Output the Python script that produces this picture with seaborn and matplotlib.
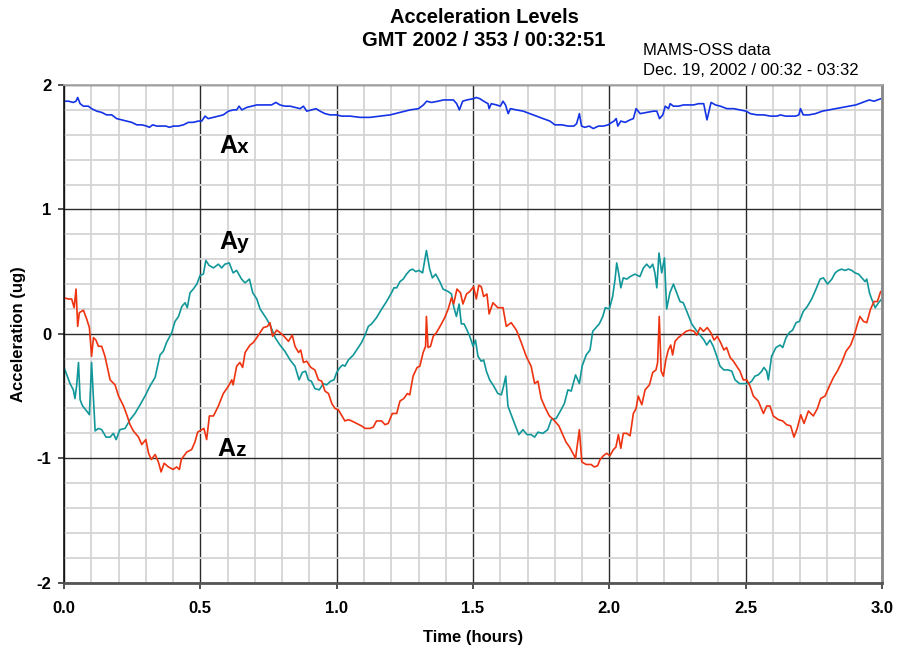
import numpy as np
import pandas as pd
import seaborn as sns
import matplotlib.pyplot as plt

# values (time in hours, acceleration in ug)
ax_t = [0, 0.016, 0.034, 0.044, 0.05, 0.059, 0.071, 0.089, 0.101, 0.12,
        0.138, 0.156, 0.175, 0.193, 0.211, 0.23, 0.248, 0.267, 0.285, 0.303,
        0.313, 0.325, 0.34, 0.358, 0.374, 0.386, 0.401, 0.419, 0.438, 0.456,
        0.474, 0.492, 0.505, 0.517, 0.529, 0.548, 0.566, 0.584, 0.603, 0.621,
        0.633, 0.642, 0.652, 0.67, 0.688, 0.707, 0.725, 0.743, 0.761, 0.777,
        0.792, 0.81, 0.829, 0.847, 0.866, 0.878, 0.89, 0.908, 0.924, 0.939,
        0.957, 0.976, 1.0, 1.018, 1.049, 1.086, 1.122, 1.159, 1.196, 1.232,
        1.269, 1.3, 1.318, 1.33, 1.348, 1.372, 1.391, 1.41, 1.428, 1.44,
        1.45, 1.462, 1.477, 1.501, 1.512, 1.525, 1.539, 1.555, 1.559, 1.567,
        1.586, 1.6, 1.61, 1.619, 1.629, 1.637, 1.659, 1.684, 1.708, 1.733,
        1.757, 1.782, 1.80, 1.825, 1.849, 1.87, 1.88, 1.89, 1.898, 1.91,
        1.926, 1.941, 1.96, 1.978, 1.996, 2.009, 2.017, 2.025, 2.031, 2.042,
        2.058, 2.076, 2.088, 2.098, 2.113, 2.137, 2.162, 2.174, 2.184, 2.196,
        2.205, 2.217, 2.223, 2.235, 2.254, 2.272, 2.29, 2.309, 2.327, 2.346,
        2.358, 2.373, 2.389, 2.407, 2.431, 2.456, 2.48, 2.502, 2.517, 2.542,
        2.566, 2.591, 2.615, 2.627, 2.646, 2.664, 2.683, 2.695, 2.701, 2.711,
        2.732, 2.756, 2.781, 2.805, 2.83, 2.855, 2.879, 2.904, 2.928, 2.953,
        2.971, 2.996]
ax_v = [1.87, 1.87, 1.86, 1.87, 1.90, 1.85, 1.83, 1.83, 1.81, 1.79,
        1.78, 1.76, 1.76, 1.73, 1.72, 1.71, 1.70, 1.68, 1.68, 1.67,
        1.66, 1.68, 1.67, 1.67, 1.67, 1.66, 1.67, 1.67, 1.68, 1.70,
        1.70, 1.71, 1.71, 1.75, 1.73, 1.74, 1.75, 1.76, 1.79, 1.80,
        1.80, 1.83, 1.80, 1.82, 1.83, 1.84, 1.84, 1.84, 1.84, 1.86,
        1.84, 1.83, 1.83, 1.82, 1.81, 1.83, 1.79, 1.80, 1.81, 1.79,
        1.77, 1.76, 1.76, 1.75, 1.75, 1.74, 1.74, 1.75, 1.76, 1.78,
        1.80, 1.81, 1.84, 1.87, 1.86, 1.87, 1.88, 1.88, 1.88, 1.85,
        1.80, 1.87, 1.88, 1.89, 1.90, 1.89, 1.87, 1.85, 1.81, 1.85,
        1.84, 1.83, 1.87, 1.84, 1.77, 1.81, 1.80, 1.79, 1.77, 1.75,
        1.73, 1.71, 1.68, 1.68, 1.67, 1.67, 1.69, 1.77, 1.67, 1.66,
        1.67, 1.65, 1.67, 1.67, 1.68, 1.70, 1.71, 1.73, 1.67, 1.71,
        1.70, 1.72, 1.73, 1.81, 1.77, 1.78, 1.79, 1.79, 1.73, 1.76,
        1.83, 1.81, 1.85, 1.83, 1.83, 1.84, 1.84, 1.84, 1.85, 1.85,
        1.72, 1.86, 1.84, 1.83, 1.81, 1.81, 1.80, 1.79, 1.77, 1.76,
        1.76, 1.75, 1.75, 1.76, 1.75, 1.75, 1.75, 1.76, 1.81, 1.76,
        1.76, 1.77, 1.79, 1.80, 1.81, 1.82, 1.83, 1.84, 1.86, 1.88,
        1.87, 1.89]

ay_t = [0, 0.01, 0.022, 0.034, 0.04, 0.046, 0.053, 0.059, 0.068, 0.083,
        0.093, 0.101, 0.114, 0.126, 0.138, 0.154, 0.169, 0.181, 0.191, 0.205,
        0.224, 0.242, 0.26, 0.279, 0.297, 0.315, 0.334, 0.352, 0.364, 0.376,
        0.395, 0.407, 0.42, 0.432, 0.444, 0.452, 0.462, 0.474, 0.487, 0.499,
        0.511, 0.52, 0.532, 0.548, 0.566, 0.578, 0.59, 0.606, 0.62, 0.633,
        0.651, 0.664, 0.68, 0.692, 0.707, 0.719, 0.731, 0.743, 0.758, 0.774,
        0.792, 0.81, 0.829, 0.847, 0.862, 0.874, 0.886, 0.896, 0.907, 0.92,
        0.936, 0.951, 0.963, 0.978, 0.99, 1.0, 1.012, 1.022, 1.03, 1.043,
        1.061, 1.079, 1.091, 1.104, 1.116, 1.128, 1.146, 1.165, 1.183, 1.201,
        1.21, 1.22, 1.232, 1.244, 1.256, 1.268, 1.278, 1.29, 1.302, 1.315,
        1.329, 1.341, 1.351, 1.363, 1.378, 1.39, 1.409, 1.421, 1.429, 1.439,
        1.449, 1.457, 1.467, 1.478, 1.488, 1.5, 1.509, 1.518, 1.53, 1.539,
        1.549, 1.561, 1.576, 1.591, 1.604, 1.612, 1.62, 1.628, 1.64, 1.652,
        1.668, 1.683, 1.698, 1.713, 1.726, 1.738, 1.756, 1.774, 1.787, 1.805,
        1.823, 1.835, 1.848, 1.86, 1.876, 1.89, 1.9, 1.915, 1.929, 1.939,
        1.951, 1.963, 1.976, 1.985, 2.0, 2.012, 2.021, 2.027, 2.034, 2.042,
        2.051, 2.064, 2.076, 2.094, 2.112, 2.125, 2.137, 2.149, 2.159, 2.167,
        2.174, 2.182, 2.192, 2.202, 2.21, 2.222, 2.235, 2.247, 2.259, 2.271,
        2.286, 2.302, 2.318, 2.333, 2.347, 2.357, 2.369, 2.381, 2.394, 2.406,
        2.42, 2.436, 2.449, 2.461, 2.477, 2.491, 2.51, 2.522, 2.534, 2.546,
        2.559, 2.567, 2.577, 2.583, 2.595, 2.611, 2.626, 2.636, 2.648, 2.66,
        2.672, 2.685, 2.697, 2.711, 2.726, 2.742, 2.758, 2.773, 2.785, 2.8,
        2.816, 2.828, 2.84, 2.852, 2.864, 2.877, 2.889, 2.901, 2.914, 2.926,
        2.938, 2.944, 2.954, 2.962, 2.975, 2.987, 2.999]
ay_v = [-0.27, -0.33, -0.40, -0.45, -0.52, -0.42, -0.23, -0.53, -0.58, -0.62,
        -0.65, -0.23, -0.78, -0.76, -0.77, -0.83, -0.83, -0.80, -0.85, -0.77,
        -0.76, -0.69, -0.64, -0.57, -0.50, -0.42, -0.35, -0.17, -0.14, -0.07,
        0.01, 0.10, 0.14, 0.22, 0.25, 0.21, 0.33, 0.36, 0.40, 0.47,
        0.48, 0.59, 0.55, 0.53, 0.56, 0.53, 0.56, 0.57, 0.49, 0.51,
        0.44, 0.41, 0.44, 0.33, 0.28, 0.20, 0.16, 0.12, 0.06, -0.03,
        -0.09, -0.14, -0.21, -0.26, -0.37, -0.31, -0.30, -0.37, -0.38, -0.44,
        -0.45, -0.40, -0.41, -0.38, -0.37, -0.31, -0.27, -0.25, -0.26, -0.21,
        -0.17, -0.11, -0.07, -0.01, 0.06, 0.08, 0.13, 0.20, 0.26, 0.33,
        0.37, 0.37, 0.42, 0.44, 0.48, 0.51, 0.52, 0.50, 0.51, 0.49,
        0.67, 0.52, 0.45, 0.48, 0.42, 0.36, 0.34, 0.32, 0.22, 0.14,
        0.24, 0.08, 0.08, 0.03, -0.02, -0.10, -0.05, -0.18, -0.22, -0.21,
        -0.30, -0.37, -0.42, -0.48, -0.49, -0.42, -0.34, -0.58, -0.65, -0.72,
        -0.81, -0.77, -0.81, -0.81, -0.83, -0.79, -0.80, -0.77, -0.69, -0.68,
        -0.61, -0.56, -0.45, -0.46, -0.33, -0.40, -0.26, -0.17, -0.13, 0.02,
        0.05, 0.08, 0.14, 0.21, 0.20, 0.30, 0.44, 0.57, 0.49, 0.37,
        0.45, 0.44, 0.46, 0.48, 0.46, 0.53, 0.56, 0.53, 0.56, 0.49,
        0.37, 0.65, 0.49, 0.61, 0.20, 0.33, 0.40, 0.33, 0.26, 0.25,
        0.17, 0.08, 0.03, -0.01, -0.05, -0.09, -0.05, -0.10, -0.18, -0.26,
        -0.29, -0.29, -0.30, -0.37, -0.40, -0.40, -0.40, -0.38, -0.34, -0.33,
        -0.30, -0.27, -0.30, -0.37, -0.18, -0.11, -0.09, -0.11, -0.03, 0.01,
        0.03, 0.09, 0.10, 0.18, 0.22, 0.28, 0.36, 0.44, 0.45, 0.40,
        0.44, 0.49, 0.51, 0.52, 0.51, 0.52, 0.51, 0.49, 0.48, 0.45,
        0.42, 0.44, 0.33, 0.28, 0.21, 0.25, 0.28]

az_t = [0, 0.016, 0.028, 0.037, 0.044, 0.05, 0.056, 0.071, 0.083, 0.093,
        0.101, 0.108, 0.117, 0.126, 0.138, 0.15, 0.169, 0.187, 0.2, 0.218,
        0.23, 0.242, 0.254, 0.273, 0.285, 0.30, 0.31, 0.32, 0.334, 0.346,
        0.356, 0.367, 0.383, 0.40, 0.413, 0.423, 0.43, 0.45, 0.468, 0.48,
        0.49, 0.505, 0.513, 0.523, 0.533, 0.548, 0.566, 0.584, 0.603, 0.615,
        0.62, 0.633, 0.645, 0.655, 0.664, 0.682, 0.694, 0.707, 0.719, 0.731,
        0.746, 0.755, 0.765, 0.78, 0.792, 0.807, 0.823, 0.837, 0.847, 0.86,
        0.868, 0.878, 0.89, 0.905, 0.92, 0.933, 0.945, 0.957, 0.97, 0.982,
        0.994, 1.006, 1.030, 1.043, 1.055, 1.073, 1.091, 1.104, 1.122, 1.134,
        1.146, 1.165, 1.177, 1.189, 1.204, 1.220, 1.232, 1.246, 1.259, 1.268,
        1.280, 1.295, 1.305, 1.317, 1.326, 1.329, 1.335, 1.344, 1.354, 1.366,
        1.384, 1.396, 1.409, 1.421, 1.429, 1.441, 1.454, 1.463, 1.476, 1.488,
        1.502, 1.512, 1.521, 1.530, 1.539, 1.551, 1.559, 1.573, 1.591, 1.610,
        1.622, 1.640, 1.659, 1.677, 1.695, 1.713, 1.726, 1.738, 1.750, 1.766,
        1.780, 1.795, 1.815, 1.827, 1.841, 1.854, 1.866, 1.876, 1.890, 1.899,
        1.915, 1.933, 1.945, 1.957, 1.966, 1.978, 1.99, 2.002, 2.015, 2.024,
        2.033, 2.042, 2.051, 2.064, 2.076, 2.088, 2.098, 2.106, 2.119, 2.131,
        2.147, 2.159, 2.171, 2.177, 2.183, 2.19, 2.198, 2.207, 2.216, 2.225,
        2.232, 2.241, 2.253, 2.265, 2.281, 2.296, 2.311, 2.32, 2.333, 2.345,
        2.359, 2.372, 2.384, 2.396, 2.408, 2.42, 2.43, 2.443, 2.455, 2.467,
        2.479, 2.491, 2.504, 2.516, 2.528, 2.546, 2.565, 2.577, 2.589, 2.601,
        2.62, 2.636, 2.65, 2.665, 2.677, 2.689, 2.702, 2.714, 2.73, 2.748,
        2.763, 2.775, 2.791, 2.807, 2.822, 2.836, 2.852, 2.868, 2.885, 2.897,
        2.91, 2.919, 2.932, 2.944, 2.958, 2.971, 2.983, 2.995]
az_v = [0.29, 0.28, 0.28, 0.21, 0.36, 0.06, 0.17, 0.19, 0.12, 0.05,
        -0.18, -0.03, -0.05, -0.10, -0.10, -0.18, -0.37, -0.41, -0.50, -0.58,
        -0.65, -0.73, -0.78, -0.83, -0.89, -0.85, -0.96, -1.01, -0.97, -1.03,
        -1.11, -1.04, -1.07, -1.09, -1.07, -1.09, -1.01, -0.95, -0.93, -0.87,
        -0.79, -0.77, -0.76, -0.85, -0.66, -0.66, -0.58, -0.48, -0.42, -0.37,
        -0.41, -0.26, -0.23, -0.27, -0.15, -0.09, -0.07, -0.03, 0.01, 0.05,
        0.06, 0.09, -0.02, 0.03, 0.01, -0.02, -0.06, -0.01, -0.10, -0.15,
        -0.13, -0.23, -0.22, -0.27, -0.29, -0.37, -0.38, -0.46, -0.48, -0.56,
        -0.60, -0.61, -0.70, -0.69, -0.70, -0.72, -0.74, -0.76, -0.76, -0.75,
        -0.70, -0.70, -0.73, -0.72, -0.64, -0.64, -0.54, -0.52, -0.48, -0.49,
        -0.34, -0.27, -0.26, -0.15, -0.10, 0.14, -0.11, -0.10, -0.02, 0.01,
        0.08, 0.13, 0.20, 0.29, 0.24, 0.36, 0.33, 0.24, 0.32, 0.34,
        0.38, 0.28, 0.39, 0.38, 0.30, 0.32, 0.16, 0.25, 0.21, 0.21,
        0.06, 0.09, 0.03, -0.07, -0.18, -0.26, -0.40, -0.38, -0.52, -0.60,
        -0.66, -0.69, -0.74, -0.80, -0.87, -0.91, -0.96, -1.00, -0.77, -1.03,
        -1.05, -1.05, -1.07, -1.06, -1.01, -0.98, -0.96, -0.98, -0.93, -0.91,
        -0.81, -0.92, -0.80, -0.80, -0.82, -0.64, -0.60, -0.50, -0.57, -0.45,
        -0.41, -0.31, -0.29, -0.23, 0.14, -0.30, -0.34, -0.21, -0.13, -0.09,
        -0.17, -0.06, -0.03, -0.01, 0.02, 0.03, 0.02, -0.01, 0.05, 0.02,
        0.05, 0.01, -0.05, -0.02, -0.07, -0.13, -0.11, -0.19, -0.22, -0.26,
        -0.30, -0.37, -0.37, -0.42, -0.50, -0.54, -0.64, -0.58, -0.58, -0.66,
        -0.69, -0.70, -0.73, -0.74, -0.83, -0.76, -0.65, -0.72, -0.62, -0.66,
        -0.60, -0.52, -0.50, -0.42, -0.35, -0.30, -0.23, -0.14, -0.09, -0.02,
        0.08, 0.14, 0.10, 0.09, 0.20, 0.26, 0.26, 0.34]

x_ticks = [0.0, 0.5, 1.0, 1.5, 2.0, 2.5, 3.0]
y_ticks = [-2, -1, 0, 1, 2]

colors = {'Ax': '#1433e6', 'Ay': '#11979a', 'Az': '#ee3310'}

df = pd.concat([
    pd.DataFrame({'time': ax_t, 'accel': ax_v, 'axis': 'Ax'}),
    pd.DataFrame({'time': ay_t, 'accel': ay_v, 'axis': 'Ay'}),
    pd.DataFrame({'time': az_t, 'accel': az_v, 'axis': 'Az'}),
])

sns.set_style("white")
plt.rcParams['font.family'] = ['Liberation Sans', 'DejaVu Sans']
plt.rcParams['text.color'] = 'black'
plt.rcParams['axes.labelcolor'] = 'black'
plt.rcParams['xtick.color'] = 'black'
plt.rcParams['ytick.color'] = 'black'

fig = plt.figure(figsize=(8.97, 6.53), dpi=100)
ax = fig.add_axes([0.0714, 0.1077, 0.9119, 0.7621])

sns.lineplot(data=df, x='time', y='accel', hue='axis', palette=colors,
             estimator=None, sort=False, legend=False, lw=1.2, ax=ax)

ax.set_xlim(0, 3)
ax.set_ylim(-2, 2)
ax.set_xticks(x_ticks)
ax.set_xticklabels(["%.1f" % v for v in x_ticks], fontsize=12, fontweight='bold')
ax.set_yticks(y_ticks)
ax.set_yticklabels([str(v) for v in y_ticks], fontsize=12, fontweight='bold')
ax.set_xticks(np.arange(0, 3.01, 0.1), minor=True)
ax.set_yticks(np.arange(-2, 2.01, 0.2), minor=True)
ax.tick_params(which='major', direction='out', length=4, width=1.2,
               color='#333333', left=True, bottom=True)
ax.tick_params(axis='x', pad=9)
ax.tick_params(axis='y', pad=5)
ax.tick_params(which='minor', length=0)

ax.set_axisbelow(True)
ax.grid(which='minor', color='#d4d4d4', lw=1.3)
ax.grid(which='major', color='#2a2a2a', lw=1.0)

ax.spines['left'].set_color('#111111')
ax.spines['left'].set_linewidth(1.2)
ax.spines['bottom'].set_color('#555555')
ax.spines['bottom'].set_linewidth(2)
ax.spines['top'].set_color('#aaaaaa')
ax.spines['top'].set_linewidth(1.3)
ax.spines['right'].set_color('#888888')
ax.spines['right'].set_linewidth(2)

ax.set_xlabel("Time (hours)", fontsize=12, fontweight='bold', labelpad=10)
ax.set_ylabel("Acceleration (ug)", fontsize=12, fontweight='bold', labelpad=8)

# series labels: big "A" with smaller component letter on the same baseline
for name, (tx, ty) in {'Ax': (0.568, 1.451), 'Ay': (0.568, 0.683),
                       'Az': (0.562, -0.984)}.items():
    ax.text(tx, ty, 'A', fontsize=18, fontweight='bold', va='baseline', ha='left')
    ax.annotate(name[1], xy=(tx, ty), xytext=(13, 0), textcoords='offset points',
                fontsize=15, fontweight='bold', va='baseline', ha='left')

fig.text(0.5396, 1 - 22.7 / 653, "Acceleration Levels", fontsize=14.5,
         fontweight='bold', ha='center', va='baseline')
fig.text(0.5396, 1 - 46 / 653, "GMT 2002 / 353 / 00:32:51", fontsize=14.5,
         fontweight='bold', ha='center', va='baseline')
fig.text(642.7 / 897, 1 - 55 / 653, "MAMS-OSS data", fontsize=12,
         ha='left', va='baseline')
fig.text(642.7 / 897, 1 - 75 / 653, "Dec. 19, 2002 / 00:32 - 03:32", fontsize=12,
         ha='left', va='baseline')

fig.savefig("out.png", dpi=100)
